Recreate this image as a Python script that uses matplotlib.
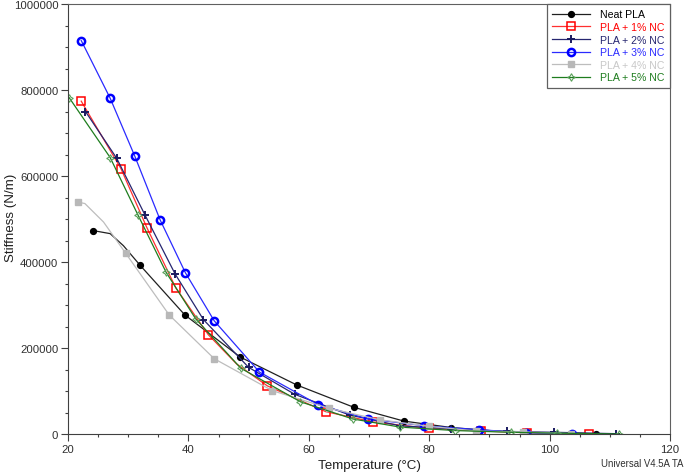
import numpy as np
import matplotlib
matplotlib.use('Agg')
import matplotlib.pyplot as plt
from matplotlib.legend_handler import HandlerLine2D
from matplotlib.ticker import MultipleLocator, FormatStrFormatter

plt.rcParams['font.family'] = ['Liberation Sans', 'DejaVu Sans']

# values (temperature in degC, stiffness in N/m)
# each series: trace points, and the indices that carry a marker
T_neat = [24.2, 27.0, 29.2, 32.0, 39.4, 48.6, 58.0, 67.5, 75.8, 83.7, 91.0, 99.0, 107.7]
S_neat = [473e3, 466e3, 438e3, 392e3, 277e3, 179e3, 114e3, 62e3, 30e3, 15e3, 7e3, 3e3, 500]
M_neat = [0, 3, 4, 5, 6, 7, 8, 9, 12]

T_1 = [22.2, 28.8, 33.1, 37.9, 43.3, 48.0, 53.1, 62.8, 70.7, 79.9, 88.6, 96.2, 106.6]
S_1 = [774e3, 617e3, 480e3, 340e3, 231e3, 163e3, 112e3, 52e3, 28e3, 13e3, 7e3, 3e3, 700]
M_1 = [0, 1, 2, 3, 4, 6, 7, 8, 9, 10, 11, 12]

T_2 = [22.9, 28.1, 32.8, 37.8, 42.5, 50.0, 57.7, 66.8, 75.2, 83.7, 92.9, 100.8, 111.1]
S_2 = [750e3, 641e3, 509e3, 372e3, 266e3, 155e3, 92e3, 44e3, 19e3, 12e3, 6e3, 4e3, 700]
M_2 = list(range(len(T_2)))

T_3 = [22.2, 27.0, 31.1, 35.3, 39.5, 44.3, 51.8, 61.6, 69.9, 79.2, 88.3, 96.0, 103.7]
S_3 = [915e3, 781e3, 646e3, 498e3, 375e3, 263e3, 144e3, 68e3, 35e3, 19e3, 10e3, 3e3, 700]
M_3 = list(range(len(T_3)))

T_4 = [21.7, 22.8, 25.9, 29.6, 36.8, 44.3, 53.9, 63.3, 71.8, 79.9, 87.8, 95.6, 103.5]
S_4 = [539e3, 536e3, 493e3, 420e3, 277e3, 175e3, 101e3, 60e3, 33e3, 18e3, 7e3, 5e3, 1e3]
M_4 = [0, 3, 4, 5, 6, 7, 8, 9, 10, 11, 12]

T_5 = [20.2, 27.0, 31.6, 36.3, 41.2, 48.7, 58.6, 67.3, 75.2, 84.3, 93.6, 101.2, 111.6]
S_5 = [782e3, 643e3, 510e3, 376e3, 268e3, 153e3, 75e3, 35e3, 16e3, 8e3, 4e3, 2e3, 0]
M_5 = list(range(len(T_5)))

labels = ['Neat PLA', 'PLA + 1% NC', 'PLA + 2% NC', 'PLA + 3% NC', 'PLA + 4% NC', 'PLA + 5% NC']


class LeftMarker(HandlerLine2D):
    def get_xdata(self, legend, xdescent, ydescent, width, height, fontsize):
        xdata, _ = super().get_xdata(legend, xdescent, ydescent, width, height, fontsize)
        return xdata, [xdata[0] + 2.5]


fig = plt.figure(figsize=(6.85, 4.77), dpi=100)
ax = fig.add_axes([68/685, 1 - 435/477, 602/685, 430/477])

ax.plot(T_neat, S_neat, '-', color='#202020', lw=0.9, marker='o', ms=4.2,
        mfc='black', mec='black', markevery=M_neat, label=labels[0])
ax.plot(T_1, S_1, '-', color='#ff3030', lw=0.9, marker='s', ms=5.3,
        mfc='none', mec='#ff0000', mew=1.1, markevery=M_1, label=labels[1])
ax.plot(T_2, S_2, '-', color='#262670', lw=0.9, marker='+', ms=5.5,
        mec='#1a1a60', mew=1.4, markevery=M_2, label=labels[2])
ax.plot(T_3, S_3, '-', color='#2a2aff', lw=0.9, marker='o', ms=5.2,
        mfc='none', mec='#0000ff', mew=1.8, markevery=M_3, label=labels[3])
ax.plot(T_4, S_4, '-', color='#bdbdbd', lw=0.9, marker='s', ms=4.5,
        mfc='#b8b8b8', mec='#b8b8b8', markevery=M_4, label=labels[4])
ax.plot(T_5, S_5, '-', color='#1e7d1e', lw=0.9, marker=(4, 1, 0), ms=5.5,
        mfc='none', mec='#5aa05a', mew=0.8, markevery=M_5, label=labels[5])

ax.set_xlim(20, 120)
ax.set_ylim(0, 1000000)
ax.xaxis.set_major_locator(MultipleLocator(20))
ax.xaxis.set_minor_locator(MultipleLocator(5))
ax.yaxis.set_major_locator(MultipleLocator(200000))
ax.yaxis.set_minor_locator(MultipleLocator(50000))
ax.yaxis.set_major_formatter(FormatStrFormatter('%d'))
ax.tick_params(which='major', length=5, width=0.8, color='#404040',
               labelsize=8.2, labelcolor='#303030', pad=2)
ax.tick_params(which='minor', length=2.5, width=0.8, color='#404040')
for s in ['left', 'bottom']:
    ax.spines[s].set_color('#404040')
for s in ['top', 'right']:
    ax.spines[s].set_color('#606060')

ax.set_xlabel('Temperature (°C)', fontsize=9.6, color='#202020', labelpad=4)
ax.set_ylabel('Stiffness (N/m)', fontsize=9.6, color='#202020')
ax.yaxis.label.set_va('center')
ax.yaxis.set_label_coords((11 - 68) / 602, (435 - 218) / 430)

leg = ax.legend(loc='upper right', handler_map={plt.Line2D: LeftMarker()},
                numpoints=1, fontsize=7.6, handlelength=3.6, handletextpad=1.0,
                labelspacing=0.25, borderaxespad=0, borderpad=0.5,
                fancybox=False, framealpha=1, edgecolor='#606060')
leg.get_frame().set_linewidth(0.9)
text_colors = ['black', '#ff0000', '#262670', '#2a2aff', '#c8c8c8', '#1e7d1e']
for t, c in zip(leg.get_texts(), text_colors):
    t.set_color(c)

fig.text(0.998, 1 - 464/477, 'Universal V4.5A TA', ha='right', va='center',
         fontsize=6.9, color='#303030')

fig.savefig('out.png', dpi=100)
